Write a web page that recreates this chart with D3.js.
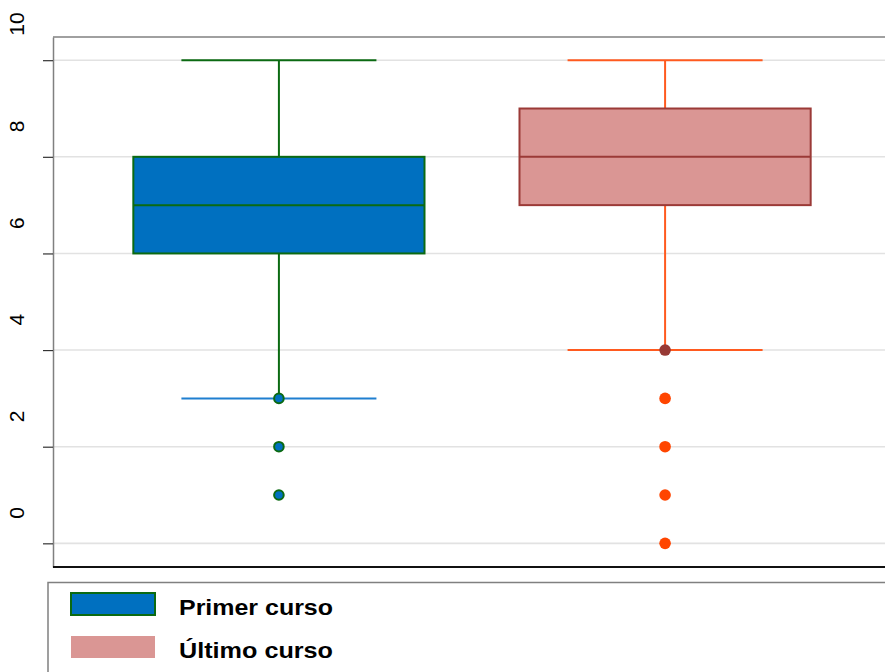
<!DOCTYPE html>
<html>
<head>
<meta charset="utf-8">
<script src="https://cdn.jsdelivr.net/npm/d3@7"></script>
<style>
  html, body { margin: 0; padding: 0; background: #fff; }
  svg { display: block; font-family: "Liberation Sans", Arial, sans-serif; }
</style>
</head>
<body>
<svg id="chart" width="885" height="672"></svg>
<script>
// ---- data ----
const categories = ["Primer curso", "Último curso"];
const q1Values = [6, 7];
const medianValues = [7, 8];
const q3Values = [8, 9];
const whiskerLow = [3, 4];
const whiskerHigh = [10, 10];
const outliersPrimer = [3, 2, 1];
const outliersUltimo = [4, 3, 2, 1, 0];
const yTicks = [0, 2, 4, 6, 8, 10];

// ---- styles ----
const styles = [
  { fill: "#0070c0", stroke: "#0b6a12", whisker: "#0b6a12", lowCap: "#1f7fd0",
    outFill: "#0070c0", outStroke: "#0b6a12", outR: 4.8, firstOutFill: "#0070c0" },
  { fill: "#da9694", stroke: "#9b3a37", whisker: "#ff5a1f", lowCap: "#ff5a1f",
    outFill: "#ff4500", outStroke: "none", outR: 5.8, firstOutFill: "#973935" }
];

const svg = d3.select("#chart");
const pLeft = 53, pRight = 891, pTop = 37, pBottom = 567;

const x = d3.scalePoint().domain(categories).range([pLeft, pRight]).padding(0.585);
const y = d3.scaleLinear().domain([-0.49, 10.48]).range([pBottom, pTop]);
const step = x.step();
const boxW = step * 0.754;
const capW = step * 0.505;

// gridlines
svg.append("g").selectAll("line").data(yTicks).join("line")
  .attr("x1", pLeft).attr("x2", pRight)
  .attr("y1", d => y(d)).attr("y2", d => y(d))
  .attr("stroke", "#e2e2e2").attr("stroke-width", 1.6);

// top border
svg.append("line").attr("x1", pLeft).attr("x2", pRight).attr("y1", pTop).attr("y2", pTop)
  .attr("stroke", "#808080").attr("stroke-width", 1.5);

// y axis
const yAxis = d3.axisLeft(y).tickValues(yTicks).tickSize(10).tickSizeOuter(0).tickFormat(d3.format("d"));
const ag = svg.append("g").attr("transform", `translate(${pLeft},0)`).call(yAxis);
ag.select(".domain").attr("stroke", "#808080").attr("stroke-width", 1.5);
ag.selectAll(".tick line").attr("stroke", "#333").attr("stroke-width", 1.2);
ag.selectAll(".tick text")
  .attr("x", 0).attr("dy", null).attr("y", 0)
  .attr("text-anchor", "start")
  .attr("transform", `translate(${24 - pLeft},-25) rotate(-90)`)
  .attr("font-size", 21).attr("fill", "#000")
  .style("font-family", "'Liberation Sans', Arial, sans-serif");

// bottom axis line
svg.append("line").attr("x1", pLeft).attr("x2", pRight).attr("y1", pBottom).attr("y2", pBottom)
  .attr("stroke", "#111").attr("stroke-width", 2.2);

// boxes
const boxes = categories.map((c, i) => ({
  c, i, q1: q1Values[i], med: medianValues[i], q3: q3Values[i],
  lo: whiskerLow[i], hi: whiskerHigh[i], s: styles[i],
  out: i === 0 ? outliersPrimer : outliersUltimo
}));

const bg = svg.append("g").selectAll("g").data(boxes).join("g");

// upper whisker
bg.append("line")
  .attr("x1", d => x(d.c)).attr("x2", d => x(d.c))
  .attr("y1", d => y(d.hi)).attr("y2", d => y(d.q3))
  .attr("stroke", d => d.s.whisker).attr("stroke-width", 2);
bg.append("line")
  .attr("x1", d => x(d.c) - capW / 2).attr("x2", d => x(d.c) + capW / 2)
  .attr("y1", d => y(d.hi)).attr("y2", d => y(d.hi))
  .attr("stroke", d => d.s.whisker).attr("stroke-width", 2);
// lower whisker
bg.append("line")
  .attr("x1", d => x(d.c)).attr("x2", d => x(d.c))
  .attr("y1", d => y(d.q1)).attr("y2", d => y(d.lo))
  .attr("stroke", d => d.s.whisker).attr("stroke-width", 2);
bg.append("line")
  .attr("x1", d => x(d.c) - capW / 2).attr("x2", d => x(d.c) + capW / 2)
  .attr("y1", d => y(d.lo)).attr("y2", d => y(d.lo))
  .attr("stroke", d => d.s.lowCap).attr("stroke-width", 2);
// box
bg.append("rect")
  .attr("x", d => x(d.c) - boxW / 2).attr("width", boxW)
  .attr("y", d => y(d.q3)).attr("height", d => y(d.q1) - y(d.q3))
  .attr("fill", d => d.s.fill).attr("stroke", d => d.s.stroke).attr("stroke-width", 2);
// median
bg.append("line")
  .attr("x1", d => x(d.c) - boxW / 2).attr("x2", d => x(d.c) + boxW / 2)
  .attr("y1", d => y(d.med)).attr("y2", d => y(d.med))
  .attr("stroke", d => d.s.stroke).attr("stroke-width", 2);
// outliers
bg.each(function(d) {
  d3.select(this).selectAll("circle").data(d.out).join("circle")
    .attr("cx", x(d.c)).attr("cy", v => y(v))
    .attr("r", d.s.outR)
    .attr("fill", (v, j) => j === 0 ? d.s.firstOutFill : d.s.outFill)
    .attr("stroke", d.s.outStroke).attr("stroke-width", 2);
});

// legend
const lg = svg.append("g");
lg.append("rect").attr("x", 48).attr("y", 582.5).attr("width", 900).attr("height", 200)
  .attr("fill", "#fff").attr("stroke", "#808080").attr("stroke-width", 1.5);
const legendRows = categories.map((c, i) => ({ c, i, s: styles[i] }));
const lr = lg.selectAll("g.row").data(legendRows).join("g").attr("class", "row")
  .attr("transform", d => `translate(0,${d.i * 43})`);
lr.append("rect").attr("x", 71).attr("y", 593).attr("width", 84).attr("height", 22)
  .attr("fill", d => d.s.fill)
  .attr("stroke", d => d.i === 0 ? d.s.stroke : "none").attr("stroke-width", 2);
lr.append("text").attr("x", 179).attr("y", 615)
  .attr("font-size", 22).attr("font-weight", "bold").attr("fill", "#000")
  .attr("textLength", 154).attr("lengthAdjust", "spacingAndGlyphs")
  .text(d => d.c);
</script>
</body>
</html>
